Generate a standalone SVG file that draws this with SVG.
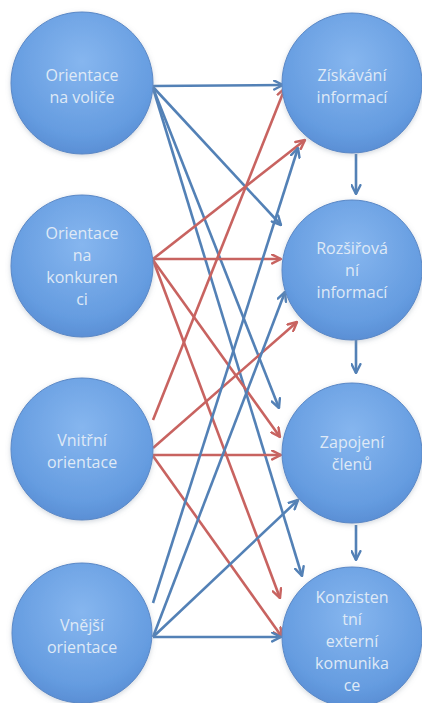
<svg xmlns="http://www.w3.org/2000/svg" width="422" height="703" viewBox="0 0 422 703">
<style>
.node circle{fill:url(#g);stroke:#5a88c6;stroke-width:1;filter:url(#sh)}
.node text{font-family:"Open Sans","Noto Sans",sans-serif;font-size:16px;fill:#dfe9f6;text-anchor:middle}
.b{stroke:#5381b6;stroke-width:2.6;fill:none;marker-end:url(#ab)}
.r{stroke:#c86360;stroke-width:2.6;fill:none;marker-end:url(#ar)}
</style>
<defs>
<radialGradient id="g" cx="50%" cy="35%" r="65%">
<stop offset="0" stop-color="#86b6ef"/>
<stop offset="0.8" stop-color="#659ce0"/>
<stop offset="1" stop-color="#5a8fd5"/>
</radialGradient>
<filter id="sh" x="-20%" y="-20%" width="140%" height="140%">
<feDropShadow dx="0" dy="1.5" stdDeviation="2.5" flood-color="#8896a6" flood-opacity="0.4"/>
</filter>
<marker id="ab" viewBox="0 0 10 10" refX="9" refY="5" markerWidth="11" markerHeight="11" markerUnits="userSpaceOnUse" orient="auto">
<path d="M1,1 L9,5 L1,9" fill="none" stroke="#5381b6" stroke-width="2.2" stroke-linecap="round" stroke-linejoin="round"/>
</marker>
<marker id="ar" viewBox="0 0 10 10" refX="9" refY="5" markerWidth="11" markerHeight="11" markerUnits="userSpaceOnUse" orient="auto">
<path d="M1,1 L9,5 L1,9" fill="none" stroke="#c86360" stroke-width="2.2" stroke-linecap="round" stroke-linejoin="round"/>
</marker>
</defs>
<rect width="422" height="703" fill="#ffffff"/>
<g id="connectors">
<line class="b" x1="153" y1="86" x2="283" y2="85"/>
<line class="b" x1="153" y1="87" x2="281" y2="225"/>
<line class="b" x1="153" y1="88" x2="279" y2="408"/>
<line class="b" x1="153" y1="88" x2="302" y2="576"/>
<line class="r" x1="153" y1="259" x2="305" y2="140"/>
<line class="r" x1="153" y1="259" x2="281" y2="259"/>
<line class="r" x1="153" y1="260" x2="280" y2="437"/>
<line class="r" x1="153" y1="260" x2="280" y2="598"/>
<line class="r" x1="153" y1="420" x2="285" y2="88"/>
<line class="r" x1="153" y1="448" x2="297" y2="322"/>
<line class="r" x1="153" y1="455" x2="281" y2="455"/>
<line class="r" x1="153" y1="456" x2="282" y2="637"/>
<line class="b" x1="153" y1="603" x2="298" y2="148"/>
<line class="b" x1="153" y1="637" x2="285" y2="292"/>
<line class="b" x1="153" y1="637" x2="298" y2="500"/>
<line class="b" x1="153" y1="637" x2="281" y2="637"/>
<line class="b" x1="356" y1="154" x2="356" y2="194"/>
<line class="b" x1="356" y1="340" x2="356" y2="373"/>
<line class="b" x1="356" y1="525" x2="356" y2="560"/>
</g>
<g id="n-l1" class="node"><circle cx="82" cy="83" r="71"/><text x="82" y="81">Orientace</text><text x="82" y="103">na voliče</text></g>
<g id="n-l2" class="node"><circle cx="82" cy="266" r="71"/><text x="82" y="239">Orientace</text><text x="82" y="261">na</text><text x="82" y="283">konkuren</text><text x="82" y="305">ci</text></g>
<g id="n-l3" class="node"><circle cx="82" cy="449" r="71"/><text x="82" y="446">Vnitřní</text><text x="82" y="468">orientace</text></g>
<g id="n-l4" class="node"><circle cx="82" cy="633" r="70"/><text x="82" y="631">Vnější</text><text x="82" y="653">orientace</text></g>
<g id="n-r1" class="node"><circle cx="352" cy="83" r="70"/><text x="352" y="81">Získávání</text><text x="352" y="103">informací</text></g>
<g id="n-r2" class="node"><circle cx="352" cy="270" r="70"/><text x="352" y="254">Rozšiřová</text><text x="352" y="276">ní</text><text x="352" y="298">informací</text></g>
<g id="n-r3" class="node"><circle cx="352" cy="453" r="70"/><text x="352" y="448">Zapojení</text><text x="352" y="470">členů</text></g>
<g id="n-r4" class="node"><circle cx="352" cy="637" r="70"/><text x="352" y="603">Konzisten</text><text x="352" y="625">tní</text><text x="352" y="647">externí</text><text x="352" y="669">komunika</text><text x="352" y="691">ce</text></g>
</svg>
